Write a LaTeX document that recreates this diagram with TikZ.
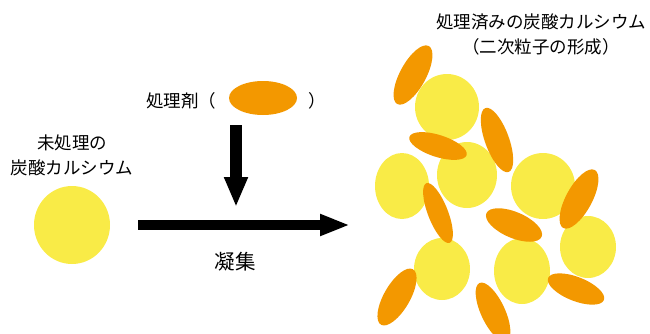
\documentclass[tikz,border=0pt]{standalone}
\usepackage{fontspec}
\newfontfamily\jpfont{Noto Sans CJK JP}
\usetikzlibrary{shapes.geometric,arrows.meta}
\definecolor{caco}{HTML}{F9EB47}
\definecolor{agent}{HTML}{F39800}
\begin{document}
\begin{tikzpicture}[x=1pt,y=-1pt,
  lbl/.style={font=\jpfont\fontsize{17.5}{25}\selectfont, inner sep=0pt, align=center},
  yel/.style={ellipse, fill=caco, inner sep=0pt},
  org/.style={ellipse, fill=agent, inner sep=0pt},
]
\useasboundingbox (0,0) rectangle (650,333);
\clip (0,0) rectangle (650,333);

% left: untreated
\node[lbl] (untreated) at (72,155) {未処理の\\炭酸カルシウム};
\node[yel, minimum width=76pt, minimum height=78pt] (single) at (72,225) {};

% treatment agent
\node[lbl, anchor=west] (agentlbl) at (146,101) {処理剤（};
\node[org, minimum width=68pt, minimum height=34pt] (agentov) at (263,98) {};
\node[lbl, anchor=west] (agentr) at (308,101) {）};

% arrows
\coordinate (dtop) at (236,125);
\coordinate (dtip) at (236,207);
\draw[line width=12pt, -{Triangle[length=30pt,width=22pt]}] (dtop) -- (dtip);
\coordinate (hl) at (138,225);
\coordinate (hr) at (350,225);
\draw[line width=10pt, -{Triangle[length=30pt,width=20pt]}] (hl) -- (hr);
\node[font=\jpfont\fontsize{20.5}{24}\selectfont, inner sep=0pt] (agg) at (235,262) {凝集};

% right: treated
\node[lbl] (treated) at (541,34.5) {処理済みの炭酸カルシウム\\（二次粒子の形成）};

\node[yel, minimum width=64pt, minimum height=66pt] (c1) at (447,107) {};
\node[yel, minimum width=60pt, minimum height=66pt] (c2) at (467,175) {};
\node[yel, minimum width=54pt, minimum height=66pt] (c3) at (402,186) {};
\node[yel, minimum width=64pt, minimum height=66pt] (c4) at (543,186) {};
\node[yel, minimum width=56pt, minimum height=62pt] (c5) at (588,247) {};
\node[yel, minimum width=56pt, minimum height=66pt] (c6) at (522,271) {};
\node[yel, minimum width=56pt, minimum height=62pt] (c7) at (442,269) {};

\node[org, minimum width=66pt, minimum height=26pt, rotate=61.5] (o1) at (413,75) {};
\node[org, minimum width=60pt, minimum height=22pt, rotate=-17.7] (o2) at (438,146) {};
\node[org, minimum width=68pt, minimum height=24pt, rotate=-70] (o3) at (497,140) {};
\node[org, minimum width=64pt, minimum height=20pt, rotate=-68.7] (o4) at (438,213) {};
\node[org, minimum width=60pt, minimum height=26pt, rotate=-23] (o5) at (514,225) {};
\node[org, minimum width=66pt, minimum height=26pt, rotate=61.5] (o6) at (579,199) {};
\node[org, minimum width=60pt, minimum height=24pt, rotate=-21.5] (o7) at (576,289) {};
\node[org, minimum width=64pt, minimum height=26pt, rotate=60] (o8) at (397,297) {};
\node[org, minimum width=64pt, minimum height=24pt, rotate=-65] (o9) at (493,312) {};
\end{tikzpicture}
\end{document}
